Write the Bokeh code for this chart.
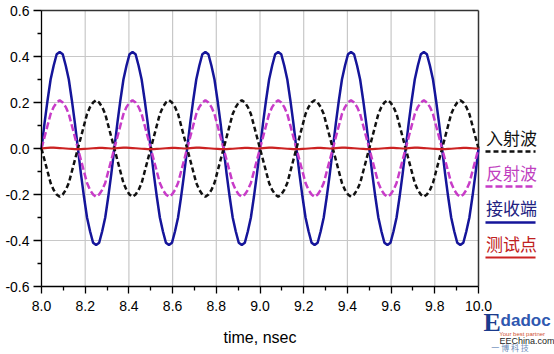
import numpy as np
from bokeh.plotting import figure
from bokeh.models import Range1d, FixedTicker
from bokeh.embed import file_html
from bokeh.resources import INLINE
from bokeh.core.properties import value

# ---------------- data ----------------
time = np.linspace(8.0, 10.0, 145)   # sample grid, ns

received = [  # 接收端 (blue)
    0.00, 0.11, 0.21, 0.30, 0.36, 0.41, 0.42, 0.41, 0.36, 0.30, 0.21, 0.11, 0.00, -0.11, -0.21, -0.30, -0.36, -0.41, -0.42, -0.41, -0.36, -0.30, -0.21, -0.11,
    0.00, 0.11, 0.21, 0.30, 0.36, 0.41, 0.42, 0.41, 0.36, 0.30, 0.21, 0.11, 0.00, -0.11, -0.21, -0.30, -0.36, -0.41, -0.42, -0.41, -0.36, -0.30, -0.21, -0.11,
    0.00, 0.11, 0.21, 0.30, 0.36, 0.41, 0.42, 0.41, 0.36, 0.30, 0.21, 0.11, 0.00, -0.11, -0.21, -0.30, -0.36, -0.41, -0.42, -0.41, -0.36, -0.30, -0.21, -0.11,
    0.00, 0.11, 0.21, 0.30, 0.36, 0.41, 0.42, 0.41, 0.36, 0.30, 0.21, 0.11, 0.00, -0.11, -0.21, -0.30, -0.36, -0.41, -0.42, -0.41, -0.36, -0.30, -0.21, -0.11,
    0.00, 0.11, 0.21, 0.30, 0.36, 0.41, 0.42, 0.41, 0.36, 0.30, 0.21, 0.11, 0.00, -0.11, -0.21, -0.30, -0.36, -0.41, -0.42, -0.41, -0.36, -0.30, -0.21, -0.11,
    0.00, 0.11, 0.21, 0.30, 0.36, 0.41, 0.42, 0.41, 0.36, 0.30, 0.21, 0.11, 0.00, -0.11, -0.21, -0.30, -0.36, -0.41, -0.42, -0.41, -0.36, -0.30, -0.21, -0.11,
    0.00]

reflected = [  # 反射波 (magenta dashed)
    0.00, 0.05, 0.10, 0.15, 0.18, 0.20, 0.21, 0.20, 0.18, 0.15, 0.10, 0.05, 0.00, -0.05, -0.10, -0.15, -0.18, -0.20, -0.21, -0.20, -0.18, -0.15, -0.10, -0.05,
    0.00, 0.05, 0.10, 0.15, 0.18, 0.20, 0.21, 0.20, 0.18, 0.15, 0.10, 0.05, 0.00, -0.05, -0.10, -0.15, -0.18, -0.20, -0.21, -0.20, -0.18, -0.15, -0.10, -0.05,
    0.00, 0.05, 0.10, 0.15, 0.18, 0.20, 0.21, 0.20, 0.18, 0.15, 0.10, 0.05, 0.00, -0.05, -0.10, -0.15, -0.18, -0.20, -0.21, -0.20, -0.18, -0.15, -0.10, -0.05,
    0.00, 0.05, 0.10, 0.15, 0.18, 0.20, 0.21, 0.20, 0.18, 0.15, 0.10, 0.05, 0.00, -0.05, -0.10, -0.15, -0.18, -0.20, -0.21, -0.20, -0.18, -0.15, -0.10, -0.05,
    0.00, 0.05, 0.10, 0.15, 0.18, 0.20, 0.21, 0.20, 0.18, 0.15, 0.10, 0.05, 0.00, -0.05, -0.10, -0.15, -0.18, -0.20, -0.21, -0.20, -0.18, -0.15, -0.10, -0.05,
    0.00, 0.05, 0.10, 0.15, 0.18, 0.20, 0.21, 0.20, 0.18, 0.15, 0.10, 0.05, 0.00, -0.05, -0.10, -0.15, -0.18, -0.20, -0.21, -0.20, -0.18, -0.15, -0.10, -0.05,
    0.00]

incident = [  # 入射波 (black dotted)
    0.00, -0.05, -0.10, -0.15, -0.18, -0.20, -0.21, -0.20, -0.18, -0.15, -0.10, -0.05, 0.00, 0.05, 0.10, 0.15, 0.18, 0.20, 0.21, 0.20, 0.18, 0.15, 0.10, 0.05,
    0.00, -0.05, -0.10, -0.15, -0.18, -0.20, -0.21, -0.20, -0.18, -0.15, -0.10, -0.05, 0.00, 0.05, 0.10, 0.15, 0.18, 0.20, 0.21, 0.20, 0.18, 0.15, 0.10, 0.05,
    0.00, -0.05, -0.10, -0.15, -0.18, -0.20, -0.21, -0.20, -0.18, -0.15, -0.10, -0.05, 0.00, 0.05, 0.10, 0.15, 0.18, 0.20, 0.21, 0.20, 0.18, 0.15, 0.10, 0.05,
    0.00, -0.05, -0.10, -0.15, -0.18, -0.20, -0.21, -0.20, -0.18, -0.15, -0.10, -0.05, 0.00, 0.05, 0.10, 0.15, 0.18, 0.20, 0.21, 0.20, 0.18, 0.15, 0.10, 0.05,
    0.00, -0.05, -0.10, -0.15, -0.18, -0.20, -0.21, -0.20, -0.18, -0.15, -0.10, -0.05, 0.00, 0.05, 0.10, 0.15, 0.18, 0.20, 0.21, 0.20, 0.18, 0.15, 0.10, 0.05,
    0.00, -0.05, -0.10, -0.15, -0.18, -0.20, -0.21, -0.20, -0.18, -0.15, -0.10, -0.05, 0.00, 0.05, 0.10, 0.15, 0.18, 0.20, 0.21, 0.20, 0.18, 0.15, 0.10, 0.05,
    0.00]

testpoint = [  # 测试点 (red, almost flat)
    0.000, 0.002, 0.003, 0.004, 0.004, 0.003, 0.002, 0.001, 0.000, -0.001, -0.002, -0.003, -0.003, -0.003, -0.002, -0.001, 0.000, 0.001, 0.002, 0.003, 0.003, 0.002, 0.001, 0.000,
    0.000, 0.002, 0.003, 0.004, 0.004, 0.003, 0.002, 0.001, 0.000, -0.001, -0.002, -0.003, -0.003, -0.003, -0.002, -0.001, 0.000, 0.001, 0.002, 0.003, 0.003, 0.002, 0.001, 0.000,
    0.000, 0.002, 0.003, 0.004, 0.004, 0.003, 0.002, 0.001, 0.000, -0.001, -0.002, -0.003, -0.003, -0.003, -0.002, -0.001, 0.000, 0.001, 0.002, 0.003, 0.003, 0.002, 0.001, 0.000,
    0.000, 0.002, 0.003, 0.004, 0.004, 0.003, 0.002, 0.001, 0.000, -0.001, -0.002, -0.003, -0.003, -0.003, -0.002, -0.001, 0.000, 0.001, 0.002, 0.003, 0.003, 0.002, 0.001, 0.000,
    0.000, 0.002, 0.003, 0.004, 0.004, 0.003, 0.002, 0.001, 0.000, -0.001, -0.002, -0.003, -0.003, -0.003, -0.002, -0.001, 0.000, 0.001, 0.002, 0.003, 0.003, 0.002, 0.001, 0.000,
    0.000, 0.002, 0.003, 0.004, 0.004, 0.003, 0.002, 0.001, 0.000, -0.001, -0.002, -0.003, -0.003, -0.003, -0.002, -0.001, 0.000, 0.001, 0.002, 0.003, 0.003, 0.002, 0.001, 0.000,
    0.000]

x_ticks = [8.0, 8.2, 8.4, 8.6, 8.8, 9.0, 9.2, 9.4, 9.6, 9.8, 10.0]
x_tick_labels = ["8.0", "8.2", "8.4", "8.6", "8.8", "9.0", "9.2", "9.4", "9.6", "9.8", "10.0"]
x_minor = [8.1, 8.3, 8.5, 8.7, 8.9, 9.1, 9.3, 9.5, 9.7, 9.9]
y_ticks = [-0.6, -0.4, -0.2, 0.0, 0.2, 0.4, 0.6]
y_tick_labels = ["-0.6", "-0.4", "-0.2", "0.0", "0.2", "0.4", "0.6"]
y_minor = [-0.5, -0.3, -0.1, 0.1, 0.3, 0.5]

series_names = ["入射波", "反射波", "接收端", "测试点"]
x_label = "time, nsec"

# ---------------- figure ----------------
X0, X1 = 8.0, 10.0
Y0, Y1 = -0.6, 0.6
W, H = 554, 354
# plot box of the reference: x 8..10 -> px 41..478, y 0.6..-0.6 -> px 10..286
PX_L, PX_R, PY_T, PY_B = 41, 478, 10, 286
sx = (PX_R - PX_L) / (X1 - X0)
sy = (PY_B - PY_T) / (Y1 - Y0)
x_range = Range1d(X0 - PX_L / sx, X1 + (W - PX_R) / sx)
y_range = Range1d(Y0 - (H - PY_B) / sy, Y1 + PY_T / sy)

p = figure(width=W, height=H, x_range=x_range, y_range=y_range,
           output_backend="svg", toolbar_location=None, min_border=0)
p.outline_line_color = None
p.background_fill_color = "white"
p.border_fill_color = "white"
p.xgrid.visible = False
p.ygrid.visible = False

FONT = "Liberation Sans"
for ax, ticks, minor, labels in ((p.xaxis[0], x_ticks, x_minor, x_tick_labels),
                                 (p.yaxis[0], y_ticks, y_minor, y_tick_labels)):
    ax.ticker = FixedTicker(ticks=ticks, minor_ticks=minor)
    ax.major_label_overrides = {t: l for t, l in zip(ticks, labels)}
    ax.axis_line_color = "black"
    ax.axis_line_width = 1.3
    ax.major_tick_line_color = "black"
    ax.minor_tick_line_color = "black"
    ax.major_tick_line_width = 1.3
    ax.minor_tick_line_width = 1.3
    ax.major_tick_in = 0
    ax.minor_tick_in = 0
    ax.major_label_text_font = FONT
    ax.major_label_text_font_size = "14px"
    ax.major_label_text_color = "black"

p.xaxis.bounds = (X0, X1)
p.yaxis.bounds = (Y0, Y1)
p.xaxis.fixed_location = Y0
p.yaxis.fixed_location = X0
p.xaxis.major_tick_out = 7
p.xaxis.minor_tick_out = 4
p.xaxis.major_label_standoff = 7
p.yaxis.major_tick_out = 8
p.yaxis.minor_tick_out = 4
p.yaxis.major_label_standoff = 4

# grid lines derived from tick lists
gx = [t for t in x_ticks if X0 < t < X1]
p.segment(x0=gx, y0=[Y0] * len(gx), x1=gx, y1=[Y1] * len(gx), line_color="#c8c8c8", line_width=1.2)
gy = [t for t in y_ticks if Y0 < t < Y1]
p.segment(x0=[X0] * len(gy), y0=gy, x1=[X1] * len(gy), y1=gy, line_color="#c8c8c8", line_width=1.2)
# top and right border of the plot box
p.segment(x0=[X0, X1], y0=[Y1, Y0], x1=[X1, X1], y1=[Y1, Y1], line_color="#333333", line_width=1.5)

# ---------------- curves ----------------
colors = {"入射波": "#111111", "反射波": "#c83cc8", "接收端": "#15159a", "测试点": "#cc2222"}
dashes = {"入射波": "5 3", "反射波": "7 3", "接收端": "solid", "测试点": "solid"}
widths = {"入射波": 2.5, "反射波": 2.5, "接收端": 2.5, "测试点": 2.2}
values = {"入射波": incident, "反射波": reflected, "接收端": received, "测试点": testpoint}

for name in ["接收端", "反射波", "入射波", "测试点"]:
    p.line(time, values[name], line_color=colors[name], line_dash=dashes[name],
           line_width=widths[name])

# ---------------- legend (text above a line sample), right of the box ----------------
text_y = [0.048, -0.104, -0.257, -0.413]
line_y = [-0.013, -0.165, -0.322, -0.474]
text_colors = {"入射波": "#111111", "反射波": "#c040c0", "接收端": "#202080", "测试点": "#c02020"}
LX0, LX1, LXC = 10.032, 10.261, 10.151
for name, ty, ly in zip(series_names, text_y, line_y):
    p.text(x=[LXC], y=[ty], text=[name], text_font=value("Noto Sans CJK SC"),
           text_font_size="17px", text_color=text_colors[name],
           text_align="center", text_baseline="middle")
    p.segment(x0=[LX0], y0=[ly], x1=[LX1], y1=[ly], line_color=colors[name],
              line_dash=dashes[name], line_width=widths[name])

# ---------------- axis title and watermark ----------------
p.text(x=[9.0], y=[-0.822], text=[x_label], text_font=value(FONT), text_font_size="16px",
       text_color="black", text_align="center", text_baseline="middle")
p.text(x=[10.023], y=[-0.757], text=["E"], text_font=value("Liberation Serif"), text_font_style="bold",
       text_font_size="26px", text_color="#1b3b8c", text_align="left", text_baseline="middle")
p.text(x=[10.101], y=[-0.748], text=["dadoc"], text_font=value(FONT), text_font_style="bold",
       text_font_size="17px", text_color="#2f58b0", text_align="left", text_baseline="middle")
p.text(x=[10.095], y=[-0.807], text=["Your best partner"], text_font=value(FONT),
       text_font_size="6px", text_color="#d05030", text_align="left", text_baseline="middle")
p.text(x=[10.222], y=[-0.835], text=["EEChina.com"], text_font=value(FONT),
       text_font_size="9px", text_color="#222222", text_align="center", text_baseline="middle")
p.text(x=[10.169], y=[-0.867], text=["一   博   科   技"], text_font=value("Noto Sans CJK SC"),
       text_font_size="8px", text_color="#6a8ab8", text_align="center", text_baseline="middle")

open("out.html", "w").write(file_html(p, INLINE))
